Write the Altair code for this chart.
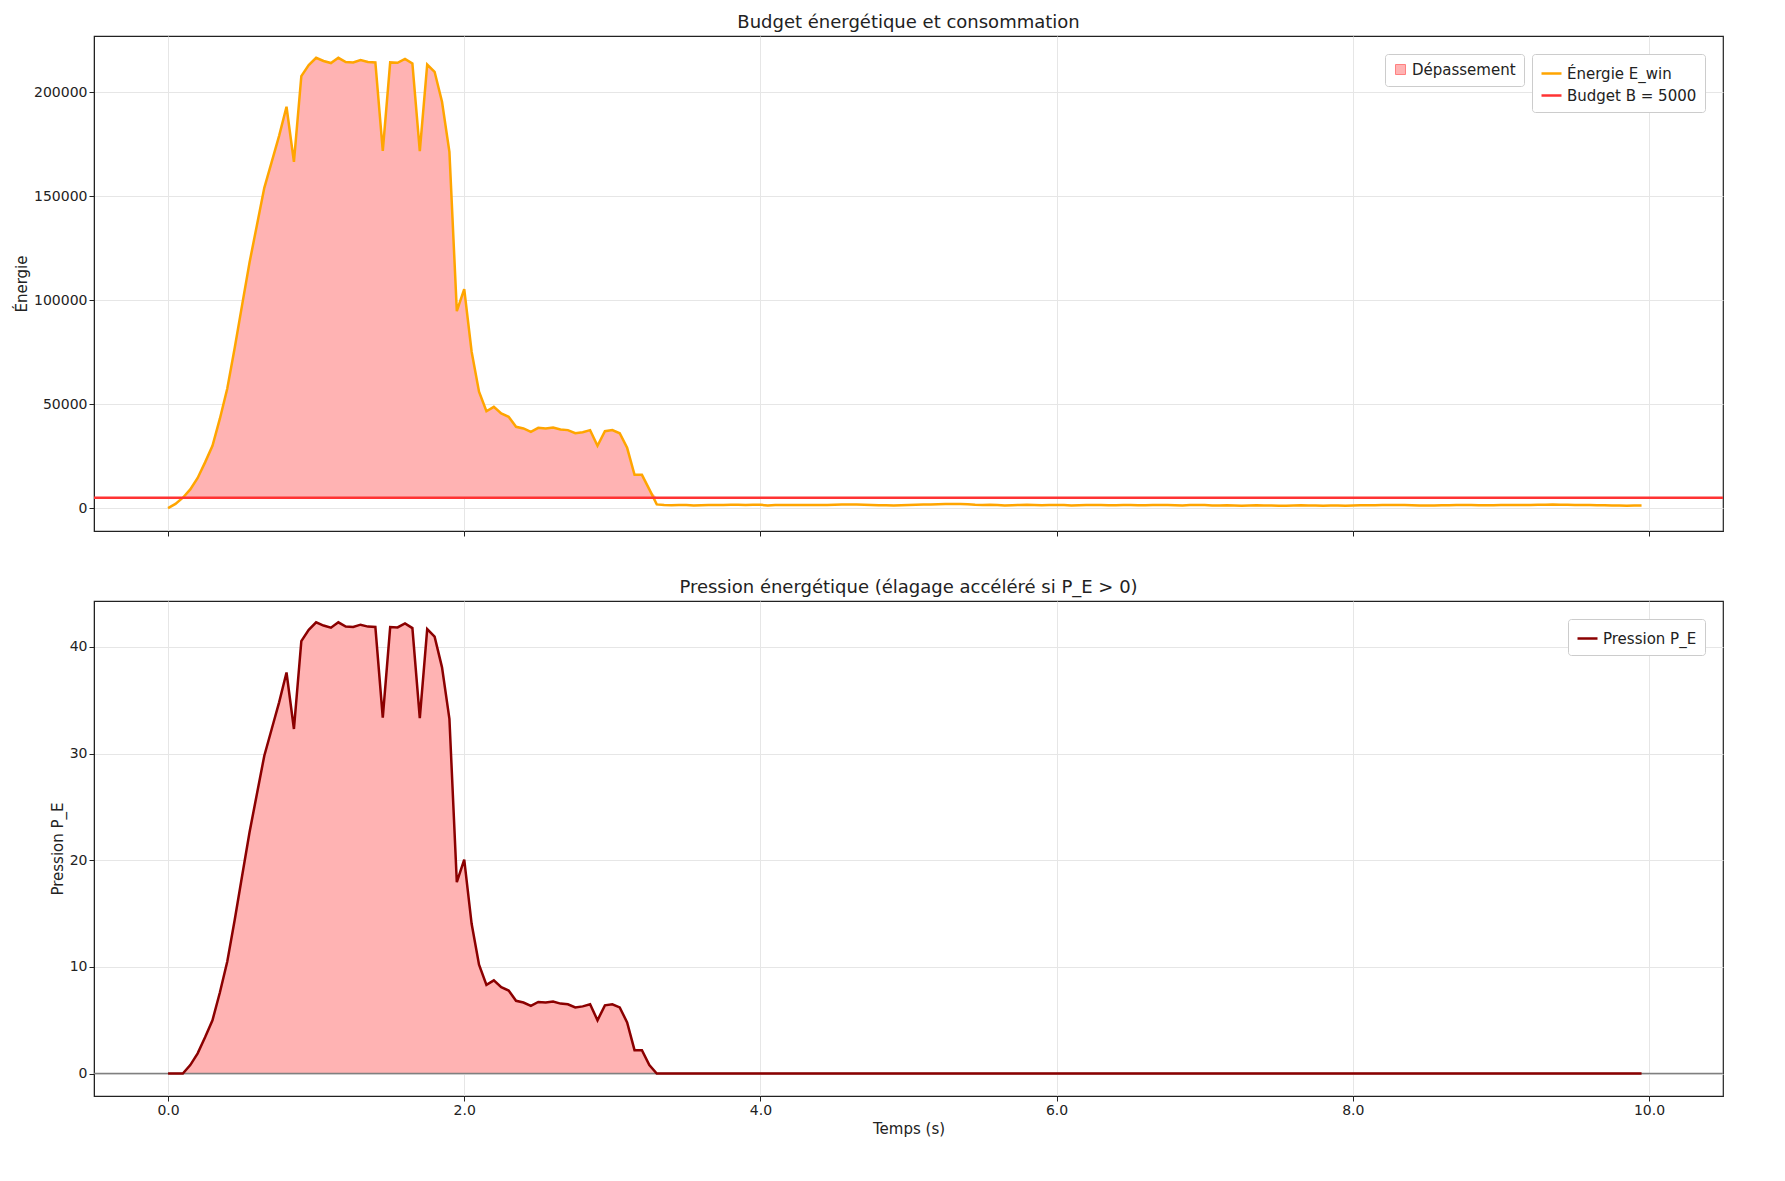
import altair as alt
import pandas as pd

dt = 0.05
energy_head = [0, 2000, 5000, 9000, 14500, 22000, 30000, 43000, 57500, 77000,
               97600, 118000, 136000, 154000, 166500, 179000, 193000, 166500, 207700, 213000,
               216500, 215000, 214000, 216500, 214500, 214300, 215400, 214500, 214300, 171800,
               214300, 214100, 216000, 213800, 171600, 213300, 209800, 195400, 171300, 94700,
               105300, 75200, 56000, 46600, 48700, 45500, 43900, 39100, 38300, 36700,
               38600, 38300, 38800, 37800, 37500, 36000, 36500, 37500, 30000, 37000,
               37500, 36000, 29000, 16000, 16000, 9000, 1800, 1500]
energy_tail = [1400, 1500, 1450, 1300, 1400, 1500, 1550, 1500, 1600, 1600,
               1550, 1650, 1600, 1300, 1500, 1500, 1450, 1550, 1500, 1500,
               1450, 1500, 1600, 1700, 1750, 1700, 1600, 1500, 1400, 1350,
               1300, 1400, 1500, 1600, 1700, 1800, 1900, 2000, 2000, 1950,
               1900, 1600, 1550, 1600, 1550, 1300, 1400, 1500, 1600, 1550,
               1400, 1450, 1500, 1450, 1300, 1400, 1500, 1450, 1500, 1350,
               1400, 1450, 1500, 1400, 1350, 1500, 1550, 1500, 1400, 1300,
               1500, 1550, 1450, 1300, 1300, 1350, 1300, 1200, 1300, 1350,
               1300, 1250, 1200, 1150, 1300, 1350, 1250, 1300, 1200, 1300,
               1250, 1150, 1300, 1400, 1350, 1400, 1450, 1500, 1500, 1450,
               1400, 1300, 1250, 1300, 1350, 1400, 1450, 1500, 1450, 1400,
               1350, 1400, 1450, 1500, 1550, 1500, 1550, 1600, 1650, 1700,
               1650, 1600, 1550, 1500, 1450, 1400, 1350, 1300, 1250, 1200,
               1250, 1300]
energy = energy_head + energy_tail
budget = 5000
times = [round(i * dt, 2) for i in range(len(energy))]

df = pd.DataFrame({"t": times, "E": energy})
df["Eclip"] = df["E"].clip(lower=budget)
df["P"] = ((df["E"] - budget) / budget).clip(lower=0)
df["s_e"] = "Énergie E_win"
df["s_d"] = "Dépassement"
df["s_p"] = "Pression P_E"

W, H = 1629, 495
xscale = alt.Scale(domain=[-0.5, 10.5], nice=False, zero=False)
grid_axis = dict(gridColor="#e6e6e6", domainColor="#222", tickColor="#222",
                 labelFontSize=14, titleFontSize=15, labelColor="#222",
                 titleColor="#222", titleFontWeight="normal")

base = alt.Chart(df)
color_scale = alt.Scale(domain=["Énergie E_win", "Budget B = 5000"], range=["#ffa500", "#ff3333"])
fill_scale = alt.Scale(domain=["Dépassement"], range=["#ffb3b3"])
leg = dict(orient="top-right", title=None, labelFontSize=15, strokeColor="#ccc",
           fillColor="white", padding=8, cornerRadius=3, labelColor="#222")

top_x = alt.X("t:Q", scale=xscale, axis=alt.Axis(values=[0, 2, 4, 6, 8, 10], labels=False, title=None, **grid_axis))
top_y_scale = alt.Scale(domain=[-11000, 227000], nice=False)
top_y = alt.Y("Eclip:Q", scale=top_y_scale, axis=alt.Axis(title="Énergie", values=[0, 50000, 100000, 150000, 200000], format="d", **grid_axis))

area_top = base.mark_area(opacity=1).encode(
    x=top_x, y=top_y, y2=alt.Y2(datum=budget),
    fill=alt.Fill("s_d:N", scale=fill_scale, legend=alt.Legend(symbolType="square", symbolStrokeColor="#ff8080", symbolStrokeWidth=1, **leg)))
line_top = base.mark_line(strokeWidth=2.5).encode(
    x="t:Q", y=alt.Y("E:Q", scale=top_y_scale),
    color=alt.Color("s_e:N", scale=color_scale, legend=alt.Legend(symbolType="stroke", symbolStrokeWidth=2.5, symbolSize=400, **leg)))
rule_top = alt.Chart(pd.DataFrame({"b": [budget], "s": ["Budget B = 5000"]})).mark_rule(strokeWidth=2.5).encode(
    y=alt.Y("b:Q", scale=top_y_scale),
    color=alt.Color("s:N", scale=color_scale))

top = alt.layer(area_top, line_top, rule_top).properties(
    width=W, height=H,
    title=alt.TitleParams("Budget énergétique et consommation", fontSize=18, fontWeight="normal", color="#222"))

bot_y_scale = alt.Scale(domain=[-2.1, 44.3], nice=False)
bot_x = alt.X("t:Q", scale=xscale, axis=alt.Axis(values=[0, 2, 4, 6, 8, 10], title="Temps (s)", **grid_axis))
area_bot = base.mark_area(color="#ffb3b3").encode(
    x=bot_x, y=alt.Y("P:Q", scale=bot_y_scale, axis=alt.Axis(title="Pression P_E", values=[0, 10, 20, 30, 40], **grid_axis)),
    y2=alt.Y2(datum=0))
rule_bot = alt.Chart(pd.DataFrame({"z": [0]})).mark_rule(color="#808080", strokeWidth=1.5).encode(
    y=alt.Y("z:Q", scale=bot_y_scale))
line_bot = base.mark_line(strokeWidth=2.5).encode(
    x="t:Q", y=alt.Y("P:Q", scale=bot_y_scale),
    stroke=alt.Stroke("s_p:N", scale=alt.Scale(domain=["Pression P_E"], range=["#8b0000"]),
                      legend=alt.Legend(symbolType="stroke", symbolStrokeWidth=2.5, symbolSize=400, **leg)))
bottom = alt.layer(area_bot, rule_bot, line_bot).properties(
    width=W, height=H,
    title=alt.TitleParams("Pression énergétique (élagage accéléré si P_E > 0)", fontSize=18, fontWeight="normal", color="#222"))

chart = alt.vconcat(top, bottom, spacing=40).resolve_scale(color="independent", fill="independent", stroke="independent").configure(
    font="DejaVu Sans").configure_view(stroke="#222", strokeWidth=1.2)
chart.save("out.html", embed_options={"renderer": "svg", "actions": False})
